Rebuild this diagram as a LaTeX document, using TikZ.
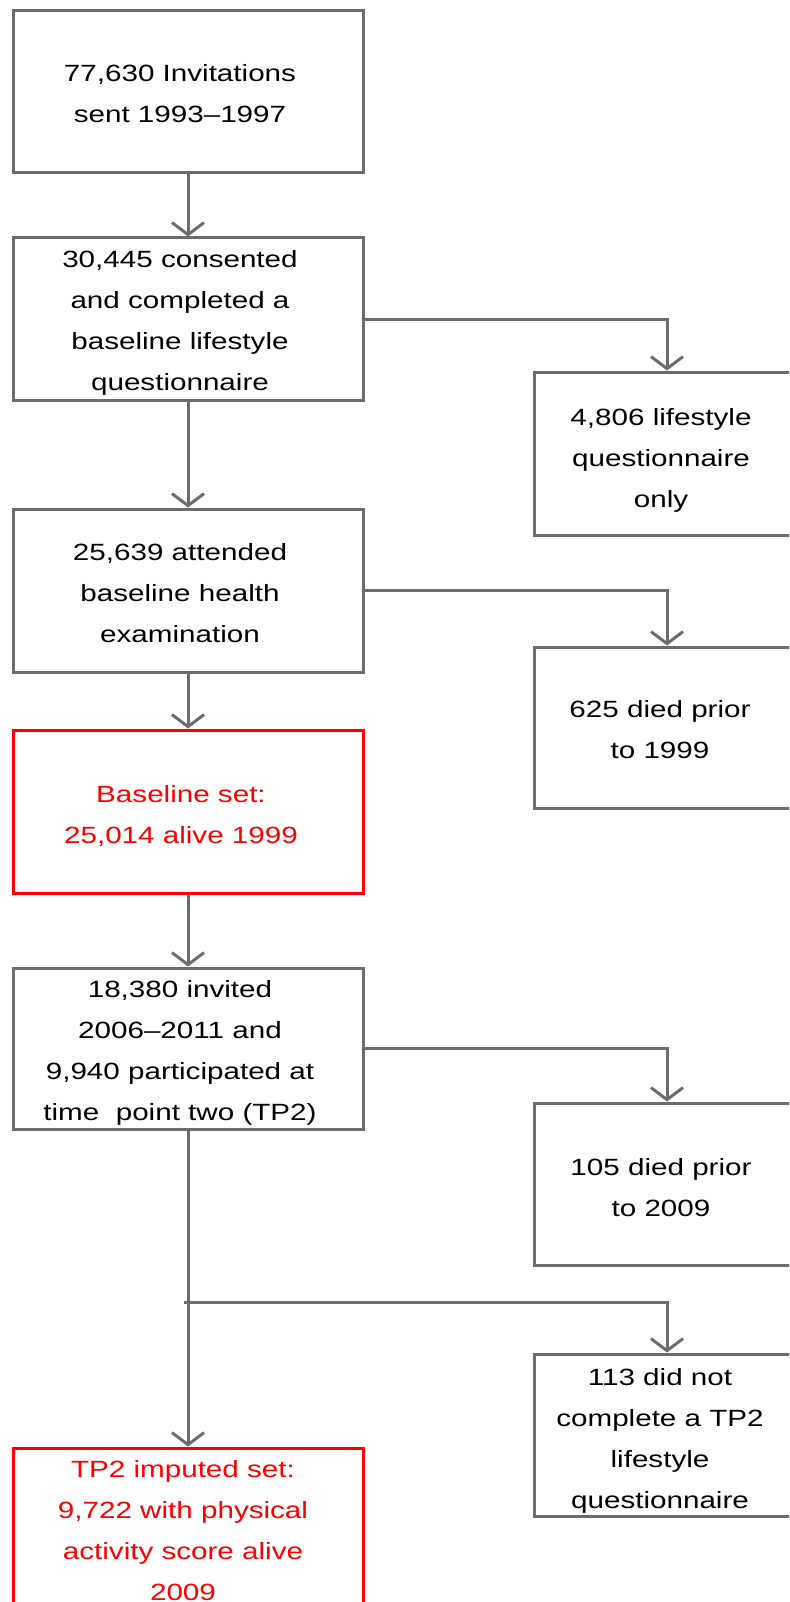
\documentclass[tikz,border=0pt]{standalone}
\usepackage{fontspec}
\setmainfont{Liberation Sans}[FakeStretch=1.26]
\usetikzlibrary{arrows.meta}
\definecolor{lin}{RGB}{108,108,108}
\definecolor{redc}{RGB}{255,0,0}
\tikzset{
  gbox/.style={draw=lin, line width=3pt, rectangle, inner sep=0pt, minimum width=350pt},
  rbox/.style={draw=redc, line width=3pt, rectangle, inner sep=0pt, minimum width=350pt},
  sbox/.style={draw=lin, line width=3pt, rectangle, inner sep=0pt, minimum width=266pt},
  txt/.style={inner sep=0pt, font=\fontsize{23.5}{41}\selectfont},
  rtxt/.style={txt, text=redc},
  arr/.style={draw=lin, line width=3pt, -{Straight Barb[length=12pt,width=32pt]}},
}
\begin{document}
\begin{tikzpicture}[x=1pt,y=-1pt]
\useasboundingbox (0,0) rectangle (789,1602);
\clip (0,0) rectangle (789,1602);
% left column boxes
\node[gbox, minimum height=162pt] (b1) at (188,92) {};
\node[gbox, minimum height=162pt] (b2) at (188,319) {};
\node[gbox, minimum height=163pt] (b3) at (188,590.5) {};
\node[rbox, minimum height=163pt] (b4) at (188,811.5) {};
\node[gbox, minimum height=161pt] (b5) at (188,1048.5) {};
\node[rbox, minimum height=162pt] (b6) at (188,1529) {};
% right column boxes
\node[sbox, minimum height=163pt] (r1) at (667,453.5) {};
\node[sbox, minimum height=161pt] (r2) at (667,727.5) {};
\node[sbox, minimum height=162pt] (r3) at (667,1184) {};
\node[sbox, minimum height=162pt] (r4) at (667,1435) {};
% texts
\node[txt] (t1) at (180,94) {\begin{tabular}{@{}c@{}}77,630 Invitations\\ sent 1993–1997\end{tabular}};
\node[txt] (t2) at (180,321) {\begin{tabular}{@{}c@{}}30,445 consented\\ and completed a\\ baseline lifestyle\\ questionnaire\end{tabular}};
\node[txt] (t3) at (180,592.8) {\begin{tabular}{@{}c@{}}25,639 attended\\ baseline health\\ examination\end{tabular}};
\node[rtxt] (t4) at (181,814.3) {\begin{tabular}{@{}c@{}}Baseline set:\\ 25,014 alive 1999\end{tabular}};
\node[txt] (t5) at (180,1050.3) {\begin{tabular}{@{}c@{}}18,380 invited\\ 2006–2011 and\\ 9,940 participated at\\ time\ \ point two (TP2)\end{tabular}};
\node[rtxt] (t6) at (183,1530.3) {\begin{tabular}{@{}c@{}}TP2 imputed set:\\ 9,722 with physical\\ activity score alive\\ 2009\end{tabular}};
\node[txt] (u1) at (661,457.8) {\begin{tabular}{@{}c@{}}4,806 lifestyle\\ questionnaire\\ only\end{tabular}};
\node[txt] (u2) at (660,729.3) {\begin{tabular}{@{}c@{}}625 died prior\\ to 1999\end{tabular}};
\node[txt] (u3) at (661,1187.3) {\begin{tabular}{@{}c@{}}105 died prior\\ to 2009\end{tabular}};
\node[txt] (u4) at (660,1438.3) {\begin{tabular}{@{}c@{}}113 did not\\ complete a TP2\\ lifestyle\\ questionnaire\end{tabular}};
% connectors
\draw[arr] (b1) -- (b2);
\draw[arr] (b2.east) -| (r1.north);
\draw[arr] (b2) -- (b3);
\draw[arr] (b3.east) -| (r2.north);
\draw[arr] (b3) -- (b4);
\draw[arr] (b4) -- (b5);
\draw[arr] (b5.east) -| (r3.north);
\draw[arr] (b5) -- (b6);
\coordinate (j) at (184,1302);
\draw[arr] (j) -| (r4.north);
\end{tikzpicture}
\end{document}
